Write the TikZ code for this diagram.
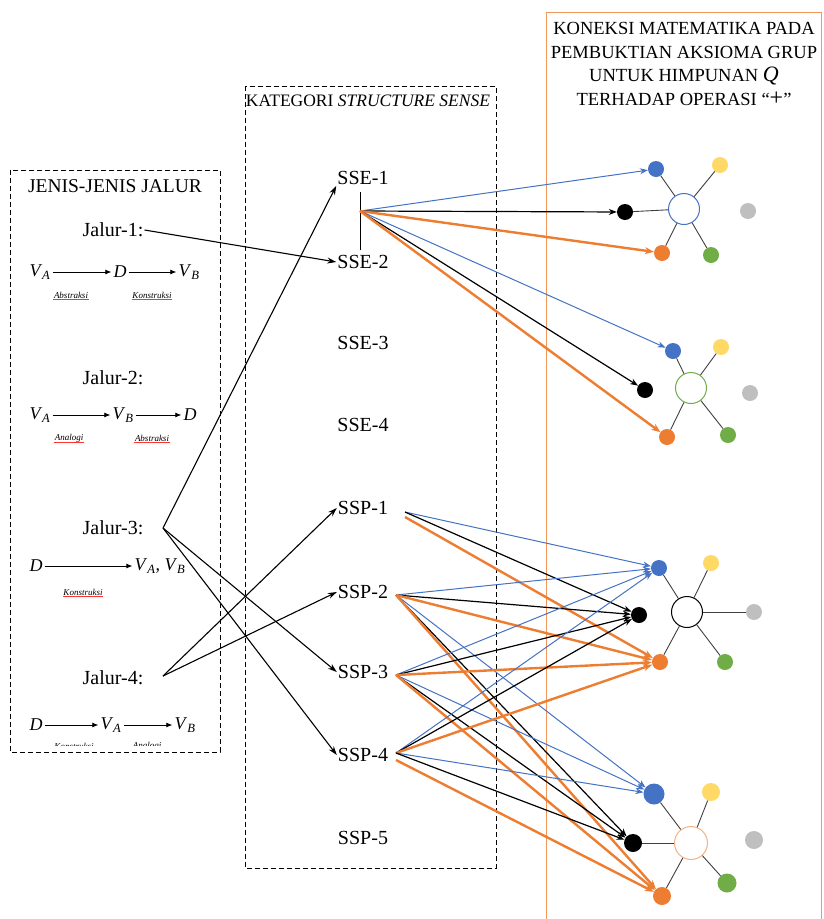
\documentclass[tikz,border=0pt]{standalone}
\usepackage{fontspec}
\setmainfont{Liberation Serif}
\usetikzlibrary{arrows.meta}
\newcommand\vsub[1]{\textit{V}\textsubscript{\textit{#1}}}

\definecolor{wblue}{HTML}{4472C4}
\definecolor{worange}{HTML}{ED7D31}
\definecolor{wyellow}{HTML}{FFD966}
\definecolor{wgray}{HTML}{BFBFBF}
\definecolor{wgreen}{HTML}{70AD47}
\definecolor{wpeach}{HTML}{F4B183}

\tikzset{
  lbl/.style={font=\fontsize{20}{24}\selectfont, inner sep=1pt},
  sym/.style={font=\fontsize{18}{20}\selectfont, inner sep=2pt},
  capt/.style={font=\fontsize{9}{10}\selectfont\itshape, inner sep=0.5pt},
  squig/.style={red!80, line width=0.7pt},
  sarr/.style={-{Latex[length=6pt,width=5pt]}, line width=0.8pt},
  flow/.style={-{Stealth[length=9pt,width=6pt]}, line width=1.1pt},
  frame/.style={dash pattern=on 5pt off 3pt, line width=0.9pt},
  dot/.style={circle, minimum size=16pt, inner sep=0pt},
  hub/.style={circle, draw, line width=1pt, fill=white, minimum size=31pt, inner sep=0pt},
  spoke/.style={line width=0.9pt, black!75},
  lb/.style={-{Stealth[length=8pt,width=6pt]}, wblue, line width=1pt},
  lk/.style={-{Stealth[length=8pt,width=6pt]}, black, line width=1.2pt},
  lo/.style={-{Stealth[length=9pt,width=7pt]}, worange, line width=2.4pt},
}

\begin{document}
\begin{tikzpicture}[x=1pt, y=-1pt]
\useasboundingbox (0,0) rectangle (823,919);

% boxes
\draw[frame] (10,170) rectangle (220,752);
\draw[frame] (245,86) rectangle (496,868);
\draw[worange!80, line width=1pt] (546,919) -- (546,12) -- (821,12) -- (821,919);

% titles
\node[font=\fontsize{19.5}{20}\selectfont] (tleft) at (115,186) {JENIS-JENIS JALUR};
\node[font=\fontsize{17.5}{20}\selectfont] (tmid) at (368,101) {KATEGORI \textit{STRUCTURE SENSE}};
\node[font=\fontsize{18.5}{23.5}\selectfont, align=center] (tright) at (684,64)
  {KONEKSI MATEMATIKA PADA\\PEMBUKTIAN AKSIOMA GRUP\\UNTUK HIMPUNAN {\fontsize{22}{22}\selectfont\textit{Q}}\\TERHADAP OPERASI ``{\fontsize{24}{22}\selectfont +}''};

% jalur
\node[lbl] (j1) at (113,230) {Jalur-1:};
\node[lbl] (j2) at (113,378) {Jalur-2:};
\node[lbl] (j3) at (113,528) {Jalur-3:};
\node[lbl] (j4) at (113,678) {Jalur-4:};

\node[sym] (va1) at (40,272) {\vsub{A}};
\node[sym] (d1) at (120,272) {\textit{D}};
\node[sym] (vb1) at (189,272) {\vsub{B}};
\draw[sarr] (va1) -- (d1);
\draw[sarr] (d1) -- (vb1);
\node[capt] (ca1) at (71,295) {Abstraksi};
\node[capt] (ca2) at (152,295) {Konstruksi};

\node[sym] (va2) at (40,415) {\vsub{A}};
\node[sym] (vb2) at (123,415) {\vsub{B}};
\node[sym] (d2) at (190,415) {\textit{D}};
\draw[sarr] (va2) -- (vb2);
\draw[sarr] (vb2) -- (d2);
\node[capt] (ca3) at (69,438) {Analogi};
\node[capt] (ca4) at (152,438) {Abstraksi};

\node[sym] (d3) at (36,566) {\textit{D}};
\node[sym] (vab3) at (160,566) {\vsub{A}, \vsub{B}};
\draw[sarr] (d3) -- (vab3);
\node[capt] (ca5) at (83,592) {Konstruksi};

\node[sym] (d4) at (36,725) {\textit{D}};
\node[sym] (va4) at (111,725) {\vsub{A}};
\node[sym] (vb4) at (185,725) {\vsub{B}};
\draw[sarr] (d4) -- (va4);
\draw[sarr] (va4) -- (vb4);
\begin{scope}
  \clip (20,735) rectangle (200,745);
  \node[capt] (ca6) at (74,746) {Konstruksi};
  \node[capt] (ca7) at (147,746) {Analogi};
\end{scope}

\foreach \c in {ca1,ca2,ca3,ca4,ca5}
  \draw[squig] (\c.south west) -- (\c.south east);

% kategori
\node[lbl] (sse1) at (363,178) {SSE-1};
\node[lbl] (sse2) at (363,262) {SSE-2};
\node[lbl] (sse3) at (363,343) {SSE-3};
\node[lbl] (sse4) at (363,425) {SSE-4};
\node[lbl] (ssp1) at (363,508) {SSP-1};
\node[lbl] (ssp2) at (363,592) {SSP-2};
\node[lbl] (ssp3) at (363,672) {SSP-3};
\node[lbl] (ssp4) at (363,755) {SSP-4};
\node[lbl] (ssp5) at (363,838) {SSP-5};

\coordinate (j3p) at (163,528);
\coordinate (j4p) at (163,676);
\draw[flow] (j1.east) -- (sse2.west);
\draw[flow] (j3p) -- (sse1.south west);
\draw[flow] (j3p) -- (ssp3.west);
\draw[flow] (j3p) -- (ssp4.west);
\draw[flow] (j4p) -- (ssp1.west);
\draw[flow] (j4p) -- (ssp2.west);

% koneksi 1
\node[dot, fill=wblue] (c1b) at (656,169) {};
\node[dot, fill=wyellow] (c1y) at (720,165) {};
\node[dot, fill=black] (c1k) at (625,212) {};
\node[dot, fill=wgray] (c1g) at (748,211) {};
\node[dot, fill=worange] (c1o) at (662,253) {};
\node[dot, fill=wgreen] (c1n) at (711,255) {};
\node[hub, draw=wblue] (c1) at (684,209) {};
\draw[spoke] (c1) -- (c1b);
\draw[spoke] (c1) -- (c1y);
\draw[spoke] (c1) -- (c1k);
\draw[spoke] (c1) -- (c1o);
\draw[spoke] (c1) -- (c1n);

% koneksi 2
\node[dot, fill=wblue] (c2b) at (673,351) {};
\node[dot, fill=wyellow] (c2y) at (721,347) {};
\node[dot, fill=black] (c2k) at (645,390) {};
\node[dot, fill=wgray] (c2g) at (750,393) {};
\node[dot, fill=worange] (c2o) at (667,437) {};
\node[dot, fill=wgreen] (c2n) at (728,435) {};
\node[hub, draw=wgreen] (c2) at (691,388) {};
\draw[spoke] (c2) -- (c2b);
\draw[spoke] (c2) -- (c2y);
\draw[spoke] (c2) -- (c2o);
\draw[spoke] (c2) -- (c2n);

% koneksi 3
\node[dot, fill=wblue] (c3b) at (659,568) {};
\node[dot, fill=wyellow] (c3y) at (711,563) {};
\node[dot, fill=black] (c3k) at (639,615) {};
\node[dot, fill=wgray] (c3g) at (754,612) {};
\node[dot, fill=worange] (c3o) at (660,662) {};
\node[dot, fill=wgreen] (c3n) at (725,662) {};
\node[hub, draw=black] (c3) at (687,612) {};
\draw[spoke] (c3) -- (c3b);
\draw[spoke] (c3) -- (c3y);
\draw[spoke] (c3) -- (c3g);
\draw[spoke] (c3) -- (c3o);
\draw[spoke] (c3) -- (c3n);

% koneksi 4
\node[dot, fill=wblue, minimum size=21pt] (c4b) at (654,794) {};
\node[dot, fill=wyellow, minimum size=18pt] (c4y) at (711,792) {};
\node[dot, fill=black, minimum size=18pt] (c4k) at (633,843) {};
\node[dot, fill=wgray, minimum size=18pt] (c4g) at (754,840) {};
\node[dot, fill=worange, minimum size=18pt] (c4o) at (662,896) {};
\node[dot, fill=wgreen, minimum size=19pt] (c4n) at (727,883) {};
\node[hub, draw=wpeach, minimum size=33pt] (c4) at (691,843) {};
\draw[spoke] (c4) -- (c4b);
\draw[spoke] (c4) -- (c4y);
\draw[spoke] (c4) -- (c4k);
\draw[spoke] (c4) -- (c4o);
\draw[spoke] (c4) -- (c4n);

% SSE ke koneksi
\coordinate (sf) at (360,211);
\coordinate (sft) at (360,192);
\coordinate (sfb) at (360,250);
\draw[line width=1pt] (sft) -- (sfb);
\draw[lb] (sf) -- (c1b);
\draw[lk] (sf) -- (c1k);
\draw[lo] (sf) -- (c1o);
\draw[lb] (sf) -- (c2b);
\draw[lk] (sf) -- (c2k);
\draw[lo] (sf) -- (c2o);

% SSP ke koneksi
\coordinate (p1) at (405,512);
\coordinate (p1o) at (405,517);
\coordinate (p2) at (396,595);
\coordinate (p3) at (396,675);
\coordinate (p4) at (396,753);
\coordinate (p4o) at (396,760);

\draw[lb] (p1) -- (c3b);
\draw[lk] (p1) -- (c3k);
\draw[lo] (p1o) -- (c3o);

\draw[lb] (p2) -- (c3b);
\draw[lk] (p2) -- (c3k);
\draw[lo] (p2) -- (c3o);
\draw[lb] (p2) -- (c4b);
\draw[lk] (p2) -- (c4k);
\draw[lo] (p2) -- (c4o);

\draw[lb] (p3) -- (c3b);
\draw[lk] (p3) -- (c3k);
\draw[lo] (p3) -- (c3o);
\draw[lb] (p3) -- (c4b);
\draw[lk] (p3) -- (c4k);
\draw[lo] (p3) -- (c4o);

\draw[lb] (p4) -- (c3b);
\draw[lk] (p4) -- (c3k);
\draw[lo] (p4) -- (c3o);
\draw[lb] (p4) -- (c4b);
\draw[lk] (p4) -- (c4k);
\draw[lo] (p4o) -- (c4o);
\end{tikzpicture}
\end{document}
